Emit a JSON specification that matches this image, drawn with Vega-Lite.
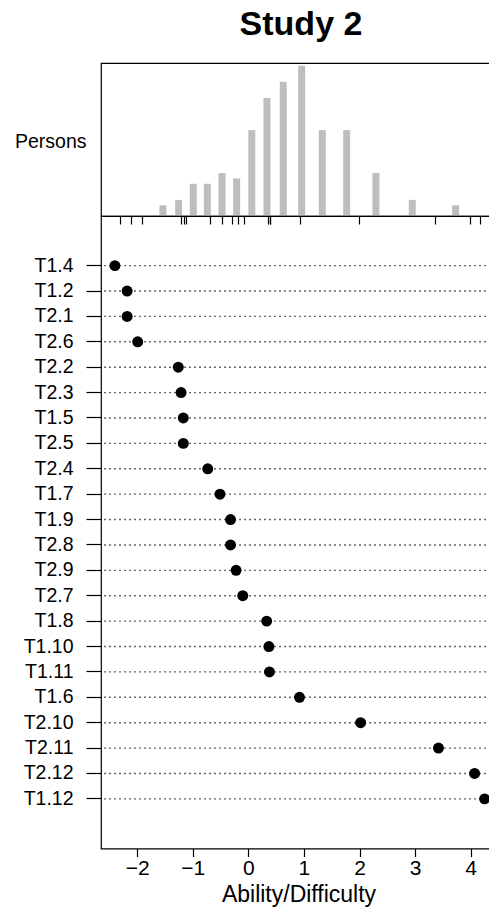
{
  "$schema": "https://vega.github.io/schema/vega-lite/v6.json",
  "padding": {"left": 13, "top": 8, "right": 0, "bottom": 0},
  "background": "white",
  "title": {"text": "Study 2", "fontSize": 34, "fontWeight": "bold", "font": "Liberation Sans", "color": "black", "anchor": "middle", "frame": "group", "baseline": "alphabetic", "offset": -7},
  "config": {
    "font": "Liberation Sans",
    "view": {"stroke": "black", "strokeWidth": 1.2},
    "axis": {"labelColor": "black", "tickColor": "black", "domainColor": "black", "titleColor": "black", "grid": false, "labelFont": "Liberation Sans", "titleFont": "Liberation Sans", "titleFontWeight": "normal", "tickWidth": 1.2}
  },
  "datasets": {
    "persons": [
      {"theta": -1.60, "count": 2},
      {"theta": -1.31, "count": 3},
      {"theta": -1.04, "count": 6},
      {"theta": -0.78, "count": 6},
      {"theta": -0.51, "count": 8},
      {"theta": -0.24, "count": 7},
      {"theta": 0.04, "count": 16},
      {"theta": 0.32, "count": 22},
      {"theta": 0.62, "count": 25},
      {"theta": 0.96, "count": 28},
      {"theta": 1.34, "count": 16},
      {"theta": 1.79, "count": 16},
      {"theta": 2.33, "count": 8},
      {"theta": 3.00, "count": 3},
      {"theta": 3.80, "count": 2}
    ],
    "items": [
      {"item": "T1.4", "difficulty": -2.40},
      {"item": "T1.2", "difficulty": -2.18},
      {"item": "T2.1", "difficulty": -2.18},
      {"item": "T2.6", "difficulty": -1.99},
      {"item": "T2.2", "difficulty": -1.26},
      {"item": "T2.3", "difficulty": -1.21},
      {"item": "T1.5", "difficulty": -1.17},
      {"item": "T2.5", "difficulty": -1.17},
      {"item": "T2.4", "difficulty": -0.73},
      {"item": "T1.7", "difficulty": -0.51},
      {"item": "T1.9", "difficulty": -0.32},
      {"item": "T2.8", "difficulty": -0.32},
      {"item": "T2.9", "difficulty": -0.22},
      {"item": "T2.7", "difficulty": -0.10},
      {"item": "T1.8", "difficulty": 0.33},
      {"item": "T1.10", "difficulty": 0.37},
      {"item": "T1.11", "difficulty": 0.38},
      {"item": "T1.6", "difficulty": 0.92},
      {"item": "T2.10", "difficulty": 2.02},
      {"item": "T2.11", "difficulty": 3.42},
      {"item": "T2.12", "difficulty": 4.07},
      {"item": "T1.12", "difficulty": 4.25}
    ]
  },
  "vconcat": [
    {
      "width": 400,
      "height": 153,
      "data": {"name": "persons"},
      "mark": {"type": "bar", "color": "#bebebe", "size": 7},
      "encoding": {
        "x": {"field": "theta", "type": "quantitative", "scale": {"domain": [-2.65, 4.545], "nice": false, "zero": false},
          "axis": {"values": [-2.40, -2.18, -1.99, -1.26, -1.21, -1.17, -0.73, -0.51, -0.32, -0.22, -0.10, 0.33, 0.37, 0.38, 0.92, 2.02, 3.42, 4.07, 4.25], "labels": false, "tickSize": 8, "domain": true, "title": null}},
        "y": {"field": "count", "type": "quantitative", "scale": {"domain": [0, 28.5], "nice": false},
          "axis": {"domain": false, "ticks": false, "labels": false, "title": "Persons", "titleAngle": 0, "titleAlign": "right", "titleBaseline": "alphabetic", "titleX": -15, "titleY": 84, "titleFontSize": 19.5}}
      }
    },
    {
      "width": 400,
      "height": 632.5,
      "data": {"name": "items"},
      "encoding": {
        "y": {"field": "item", "type": "nominal", "sort": null,
          "scale": {"domain": [" ", "T1.4", "T1.2", "T2.1", "T2.6", "T2.2", "T2.3", "T1.5", "T2.5", "T2.4", "T1.7", "T1.9", "T2.8", "T2.9", "T2.7", "T1.8", "T1.10", "T1.11", "T1.6", "T2.10", "T2.11", "T2.12", "T1.12", "  "], "padding": 0.91},
          "axis": {"title": null, "domain": false, "tickSize": 15, "labelFontSize": 19.5, "labelPadding": 13,
            "values": ["T1.4", "T1.2", "T2.1", "T2.6", "T2.2", "T2.3", "T1.5", "T2.5", "T2.4", "T1.7", "T1.9", "T2.8", "T2.9", "T2.7", "T1.8", "T1.10", "T1.11", "T1.6", "T2.10", "T2.11", "T2.12", "T1.12"]}}
      },
      "layer": [
        {
          "mark": {"type": "rule", "color": "#666666", "strokeDash": [2, 3], "strokeWidth": 1.4}
        },
        {
          "mark": {"type": "point", "filled": true, "color": "black", "size": 120, "opacity": 1},
          "encoding": {
            "x": {"field": "difficulty", "type": "quantitative", "scale": {"domain": [-2.65, 4.545], "nice": false, "zero": false},
              "axis": {"values": [-2, -1, 0, 1, 2, 3, 4], "tickSize": 8, "domain": false, "labelFontSize": 21, "labelPadding": 1, "title": "Ability/Difficulty", "titleFontSize": 23, "titleBaseline": "alphabetic", "titleY": 53, "titleX": 197.5}}
          }
        }
      ]
    }
  ],
  "spacing": 0,
  "bounds": "flush"
}
